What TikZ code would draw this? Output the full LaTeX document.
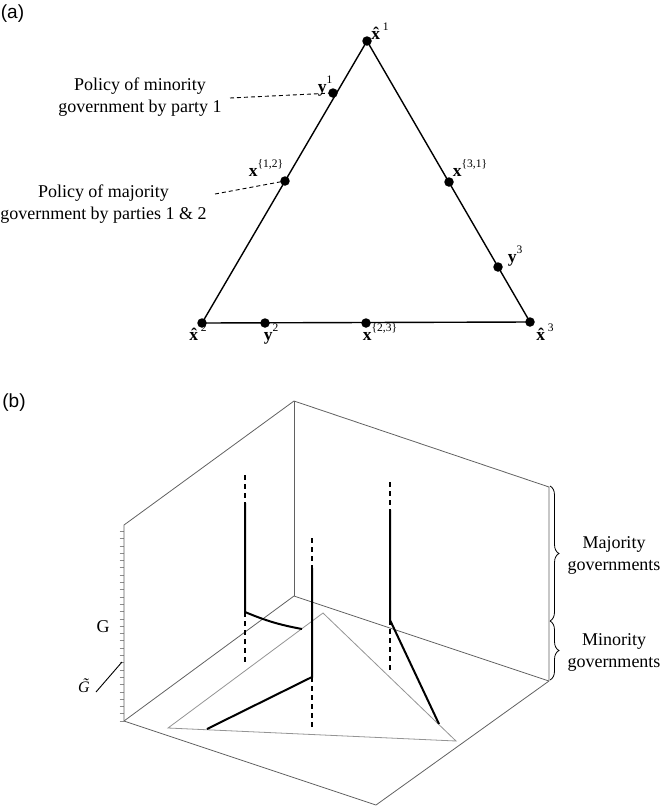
\documentclass[tikz,border=0pt]{standalone}
\usepackage{fontspec}
\setmainfont{Liberation Serif}
\setsansfont{Liberation Sans}
\usetikzlibrary{decorations.pathreplacing}
\newcommand{\bxx}{\textbf{x}}
\newcommand{\hxx}{\textbf{\^x}}
\newcommand{\byy}{\textbf{y}}
\newcommand{\supp}[1]{\raisebox{0.5em}{\fontsize{11.5}{11.5}\selectfont #1}}
\begin{document}
\begin{tikzpicture}[x=1pt,y=-1pt,
  dotnode/.style={circle,fill=black,inner sep=0pt,minimum size=9.5pt},
  lab/.style={inner sep=0pt,anchor=base,font=\fontsize{17.5}{17.5}\selectfont},
  txt/.style={inner sep=0pt,align=center,font=\fontsize{18}{22}\selectfont},
  panel/.style={inner sep=0pt,font=\sffamily\fontsize{19}{19}\selectfont},
  tri/.style={line width=1.4pt,black},
  leader/.style={line width=0.9pt,dash pattern=on 4pt off 3pt},
  boxl/.style={line width=0.8pt,black!62},
  innertri/.style={line width=0.8pt,black!42},
  thick3d/.style={line width=2pt,black},
  dash3d/.style={line width=1.6pt,black,dash pattern=on 5pt off 4pt},
]
\useasboundingbox (0,0) rectangle (662,807);

% ---------- (a) ----------
\node[panel] (pa) at (12.5,14) {(a)};
\coordinate (X1) at (367,41);
\coordinate (X2) at (202,323);
\coordinate (X3) at (530,322);
\coordinate (Y1) at (333,93);
\coordinate (X12) at (285,181);
\coordinate (X31) at (449,182);
\coordinate (Y3) at (498,267);
\coordinate (Y2) at (265,323);
\coordinate (X23) at (366,323);
\draw[tri] (X1) -- (X2) -- (X3) -- cycle;

\node[txt] (tmin) at (140,97) {Policy of minority\\government by party 1};
\node[txt] (tmaj) at (103.5,204) {Policy of majority\\government by parties 1 \& 2};
\coordinate (L1a) at (230,98);
\coordinate (L2a) at (215,194);
\draw[leader] (L1a) -- (Y1);
\draw[leader] (L2a) -- (X12);

\foreach \p in {X1,X2,X3,Y1,X12,X31,Y3,Y2,X23}
  \node[dotnode] (d\p) at (\p) {};

\node[lab] (lx1) at (380,39) {\hxx\supp{1}};
\node[lab] (ly1) at (325,92) {\byy\supp{1}};
\node[lab] (lx12) at (266,176) {\bxx\supp{\{1,2\}}};
\node[lab] (lx31) at (470,176) {\bxx\supp{\{3,1\}}};
\node[lab] (ly3) at (515,262) {\byy\supp{3}};
\node[lab] (lx2) at (198,340) {\hxx\supp{2}};
\node[lab] (ly2) at (271,340) {\byy\supp{2}};
\node[lab] (lx23) at (380,340) {\bxx\supp{\{2,3\}}};
\node[lab] (lx3) at (545,340) {\hxx\supp{3}};

% ---------- (b) ----------
\node[panel] (pb) at (14,403) {(b)};
\coordinate (O) at (124,721);
\coordinate (LT) at (124,525);
\coordinate (BB) at (294,596);
\coordinate (BT) at (294,401);
\coordinate (RB) at (549,681);
\coordinate (RT) at (549,487);
\coordinate (FB) at (376,805);

% ticks on left axis
\foreach \i in {0,...,26} {
  \pgfmathsetmacro{\yy}{721-7.3*\i}
  \draw[line width=0.6pt,black!45] (119.5,\yy) -- (124,\yy);
}
\draw[boxl] (O) -- (LT) -- (BT) -- (RT) -- (RB);
\draw[boxl] (BT) -- (BB);
\draw[boxl] (O) -- (BB) -- (RB);
\draw[boxl] (O) -- (FB) -- (RB);

% inner triangle
\coordinate (TA) at (323,613);
\coordinate (TL) at (168,728);
\coordinate (TR) at (456,741);
\draw[innertri] (TA) -- (TL) -- (TR) -- cycle;

% line A
\coordinate (A0) at (245,475);
\coordinate (A1) at (245,503);
\coordinate (A2) at (245,612);
\coordinate (A3) at (245,663);
\coordinate (A4) at (302,629);
\draw[dash3d] (A0) -- (A1);
\draw[dash3d] (A2) -- (A3);
\draw[thick3d] (A1) -- (A2) to[bend right=6] (A4);

% line B
\coordinate (B0) at (312,538);
\coordinate (B1) at (312,568);
\coordinate (B2) at (312,677);
\coordinate (B3) at (312,728);
\coordinate (B4) at (207,729);
\draw[dash3d] (B0) -- (B1);
\draw[dash3d] (B2) -- (B3);
\draw[thick3d] (B1) -- (B2) -- (B4);

% line C
\coordinate (C0) at (390,482);
\coordinate (C1) at (390,510);
\coordinate (C2) at (390,620);
\coordinate (C3) at (390,670);
\coordinate (C4) at (439,724);
\draw[dash3d] (C0) -- (C1);
\draw[dash3d] (C2) -- (C3);
\draw[thick3d] (C1) -- (C2) -- (C4);

% axis labels
\node[inner sep=0pt,font=\fontsize{18}{18}\selectfont] (G) at (103,627) {G};
\node[inner sep=0pt,font=\itshape\fontsize{16}{16}\selectfont] (Gt) at (84,686) {\~G};
\coordinate (GtE) at (122,662);
\draw[line width=0.9pt] (96,692) -- (GtE);

% braces
\coordinate (BrT) at (550,486);
\coordinate (BrM) at (550,621);
\coordinate (BrB) at (550,680);
\draw[line width=0.8pt,decorate,decoration={brace,amplitude=9pt}] (BrT) -- (BrM);
\draw[line width=0.8pt,decorate,decoration={brace,amplitude=9pt}] (BrM) -- (BrB);
\node[txt] (maj) at (614,555) {Majority\\governments};
\node[txt] (min) at (614,652) {Minority\\governments};
\end{tikzpicture}
\end{document}
